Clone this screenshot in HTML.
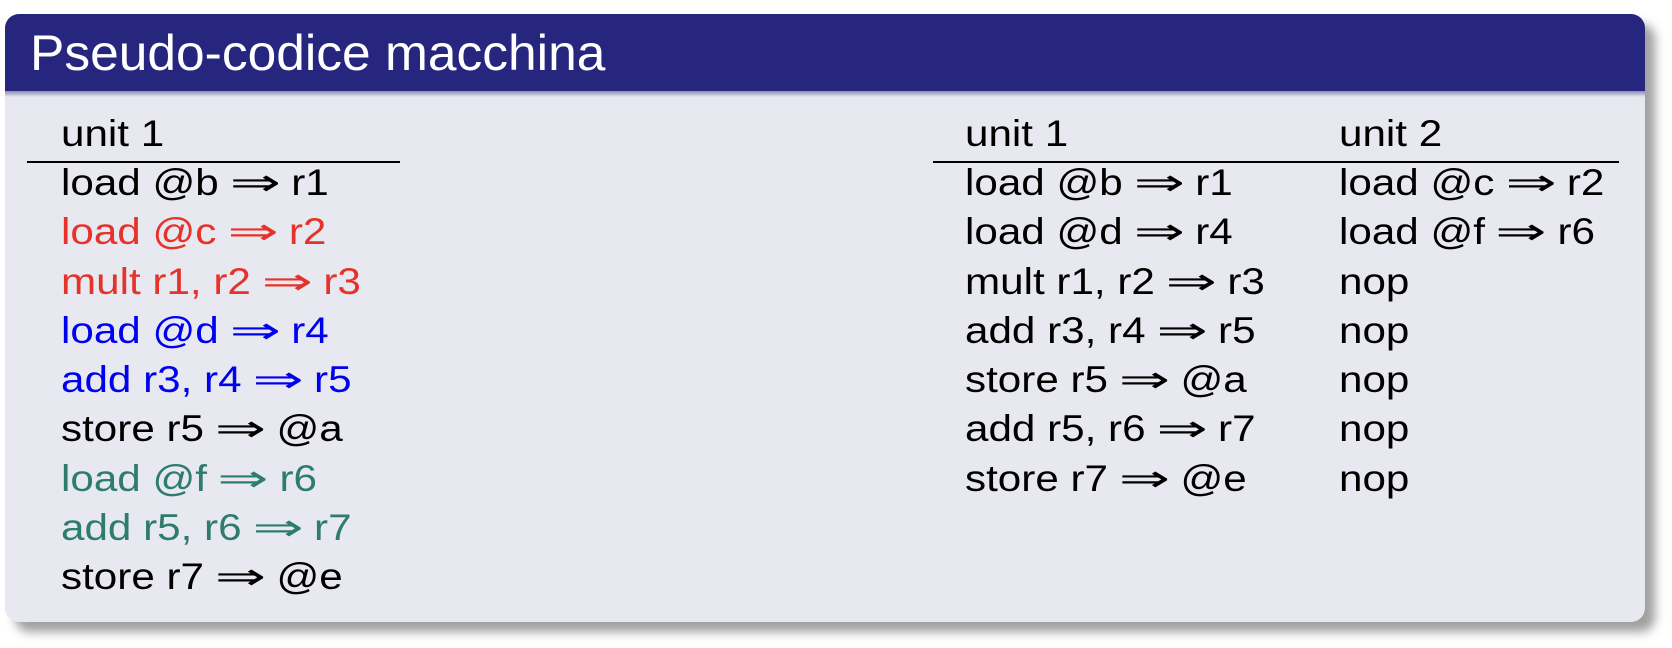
<!DOCTYPE html>
<html><head><meta charset="utf-8"><style>
body{margin:0;width:1672px;height:648px;background:#fff;position:relative;overflow:hidden;font-family:"Liberation Sans","DejaVu Sans",sans-serif}
.shadow{position:absolute;left:15px;top:24px;width:1640px;height:608px;border-radius:14px;background:#888;filter:blur(5px);opacity:.8}
.box{position:absolute;left:5px;top:14px;width:1640px;height:608px;border-radius:14px;background:#e8e8f1;overflow:hidden}
.title{position:absolute;left:0;top:0;width:100%;height:77px;background:#26267f}
.title:after{content:"";position:absolute;left:0;bottom:-6px;width:100%;height:6px;background:linear-gradient(#8a8ab5,#e8e8f1)}
.t{position:absolute;left:25px;top:14px;font-size:50px;line-height:50px;color:#fff;white-space:nowrap;transform:scaleX(1.03);transform-origin:left}
.c{position:absolute;font-size:37px;line-height:49.3px;color:#000;white-space:nowrap;transform:scaleX(1.14);transform-origin:left}
.a{display:inline-block;transform:scaleX(1.45);margin:0 6px}
.rule{position:absolute;height:2px;background:#000}
.r{color:#e5322a}.b{color:#0000f0}.g{color:#2e7d6c}
</style></head><body>
<div class="shadow"></div>
<div class="box"><div class="title"><div class="t">Pseudo-codice macchina</div></div></div>
<div class="c" style="left:61px;top:109px">unit 1</div>
<div class="rule" style="left:27px;top:161px;width:373px"></div>
<div class="c" style="left:61px;top:158px">load @b <span class="a">⇒</span> r1<br><span class="r">load @c <span class="a">⇒</span> r2</span><br><span class="r">mult r1, r2 <span class="a">⇒</span> r3</span><br><span class="b">load @d <span class="a">⇒</span> r4</span><br><span class="b">add r3, r4 <span class="a">⇒</span> r5</span><br>store r5 <span class="a">⇒</span> @a<br><span class="g">load @f <span class="a">⇒</span> r6</span><br><span class="g">add r5, r6 <span class="a">⇒</span> r7</span><br>store r7 <span class="a">⇒</span> @e</div>
<div class="c" style="left:965px;top:109px">unit 1</div>
<div class="c" style="left:1339px;top:109px">unit 2</div>
<div class="rule" style="left:933px;top:161px;width:686px"></div>
<div class="c" style="left:965px;top:158px">load @b <span class="a">⇒</span> r1<br>load @d <span class="a">⇒</span> r4<br>mult r1, r2 <span class="a">⇒</span> r3<br>add r3, r4 <span class="a">⇒</span> r5<br>store r5 <span class="a">⇒</span> @a<br>add r5, r6 <span class="a">⇒</span> r7<br>store r7 <span class="a">⇒</span> @e</div>
<div class="c" style="left:1339px;top:158px">load @c <span class="a">⇒</span> r2<br>load @f <span class="a">⇒</span> r6<br>nop<br>nop<br>nop<br>nop<br>nop</div>
</body></html>
